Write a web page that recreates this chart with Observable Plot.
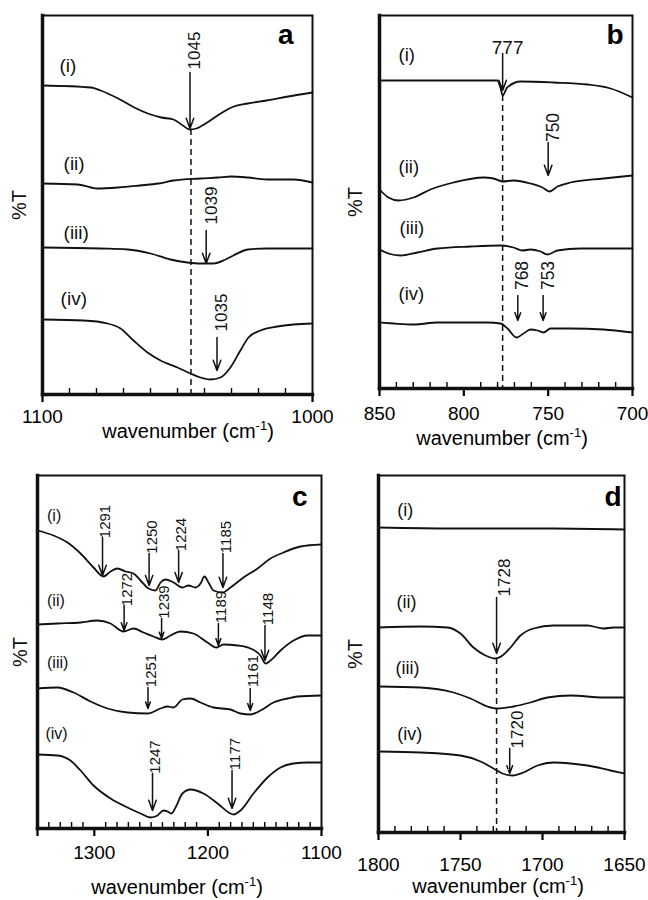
<!DOCTYPE html>
<html><head><meta charset="utf-8">
<script src="https://cdn.jsdelivr.net/npm/d3@7"></script>
<script src="https://cdn.jsdelivr.net/npm/@observablehq/plot@0.6"></script>
<style>
body{margin:0;background:#fff;}
#fig{position:relative;width:648px;height:900px;font-family:"Liberation Sans",Arial,sans-serif;overflow:hidden;background:#fff;}
.panel{position:absolute;}
.xlab{position:absolute;font-size:20px;line-height:20px;white-space:nowrap;transform:translateX(-50%);color:#000;}
.xlab sup{font-size:13px;vertical-align:0;position:relative;top:-8px;}
</style></head><body><div id="fig"></div>
<script>
// ---- Panel a: 1100–1000 cm-1 (T in arbitrary offset units) ----
const a_i = [[1100,309],[1082,307],[1078.5,304],[1072,296],[1066,287],[1061,281],[1056,277],[1051.5,275],[1048,269],[1045.5,265],[1043,266],[1039,272],[1034,281],[1030,287],[1024,291],[1017,294],[1009,298],[1000,302]];
const a_ii = [[1100,211],[1087,210],[1082,207],[1080,206],[1072,207],[1064,209],[1057,211],[1051.5,214],[1041.5,216],[1035,217],[1030,218],[1024,217],[1017,215],[1007,215],[1000,212]];
const a_iii = [[1100,147],[1078.5,146],[1068.5,145],[1060,141],[1052.6,135],[1046.3,132],[1041.5,131],[1036.7,131],[1032.2,135],[1029.3,139],[1024,145],[1017,146],[1000,146]];
const a_iv = [[1100,75],[1084.8,74],[1075.9,71],[1071.1,66],[1066.3,54],[1061.1,42],[1056.3,34],[1050,27],[1045.2,21],[1041.5,17],[1037.8,15],[1034.1,17],[1030.4,27],[1026.7,44],[1023.7,57],[1019.3,64],[1013,68],[1007,70],[1000,71]];
const labelsA = [{label:"(i)",wn:1093.7,T:329},{label:"(ii)",wn:1092.2,T:231},{label:"(iii)",wn:1092.2,T:162},{label:"(iv)",wn:1093.3,T:96}];
const annotA = [{wn:1045,label:"1045",yText:344,yTop:322,yTip:266},{wn:1039,label:"1039",yText:189,yTop:164,yTip:131},{wn:1035,label:"1035",yText:82,yTop:57,yTip:24}];
const dashA = [{wn:1045,from:265}];
const minorA = [1090,1080,1070,1060,1050,1040,1030,1020,1010];
const majorA = [1100,1000];
const tickLabelsA = [1100,1000];

// ---- Panel b: 850–700 cm-1 ----
const b_i = [[850,308],[780.2,308],[778.3,301],[777,293],[774.3,301],[766.4,307],[746.8,306],[726.7,304],[713,300],[700,291]];
const b_ii = [[850,199],[844.7,191],[838.7,188],[829.8,191],[819.8,199],[806.1,206],[788.3,211],[782.4,210],[777.1,207],[770.6,208],[760.5,205],[753.4,201],[749.2,197],[744.5,202],[736.8,206],[717.2,210],[700,213]];
const b_iii = [[850,139],[844.7,135],[837.5,133],[827.5,136],[815.6,140],[796,142],[778.3,143],[770.6,141],[765.2,138],[760.5,139],[754.5,137],[750.4,134],[744.5,138],[730.8,140],[700,140]];
const b_iv = [[850,66],[841.7,65],[829.8,64],[815.6,66],[786,66],[778.3,65],[774.1,60],[768.8,51],[764.6,55],[760.5,59],[756.3,58],[752.8,56],[748.6,60],[736.8,60],[717.2,59],[700,56]];
const labelsB = [{label:"(i)",wn:838.7,T:333},{label:"(ii)",wn:838.7,T:221},{label:"(iii)",wn:838.1,T:160},{label:"(iv)",wn:838.7,T:94}];
const annotB = [{wn:750,label:"750",yText:261,yTop:246,yTip:213},{wn:768,label:"768",yText:113,yTop:93,yTip:68},{wn:753,label:"753",yText:113,yTop:93,yTip:68}];
const annotBflat = [{wn:777,label:"777",yText:341,yTop:335,yTip:298}];
const dashB = [{wn:777,from:293}];
const minorB = [840,830,820,810,790,780,770,760,740,730,720,710];
const majorB = [850,800,750,700];
const tickLabelsB = [850,800,750,700];

// ---- Panel c: 1350–1100 cm-1 ----
const c_i = [[1350,298],[1335.9,293],[1323.6,286],[1312.1,275],[1300.7,261],[1291.9,252],[1285.7,257],[1279.6,260],[1272.5,257],[1265.5,255],[1259.3,248],[1252.3,240],[1246.1,238],[1241.7,246],[1237.3,249],[1230.3,246],[1222.4,241],[1217.1,243],[1210.9,241],[1206.5,245],[1203,252],[1199.5,246],[1195.1,238],[1187.1,236],[1180.1,241],[1168.7,251],[1156.3,260],[1144.9,270],[1133.5,276],[1118.5,282],[1100,284]];
const c_ii = [[1350,204],[1332.4,205],[1312.1,206],[1297.2,208],[1285.7,205],[1274.3,197],[1265.5,200],[1256.7,196],[1247.9,192],[1240,189],[1232.9,193],[1224.1,197],[1212.7,195],[1200.4,186],[1192.4,181],[1186.3,184],[1173.9,183],[1162.5,180],[1153.7,173],[1149.3,165],[1144.9,168],[1136.1,178],[1124.6,188],[1112.3,193],[1100,193]];
const c_iii = [[1350,140],[1332.4,141],[1318.3,136],[1303.3,127],[1288.4,120],[1270.8,116],[1253.2,115],[1241.7,120],[1235.6,122],[1230.3,121],[1222.4,129],[1215.3,130],[1206.5,126],[1195.1,121],[1180.1,119],[1171.3,115],[1162.5,114],[1153.7,118],[1142.3,126],[1129.9,130],[1121.1,132],[1100,133]];
const c_iv = [[1350,74],[1332.4,73],[1321,68],[1312.1,58],[1300.7,43],[1285.7,30],[1270.8,21],[1259.3,15],[1250.5,11],[1244.4,13],[1239.1,18],[1235.6,17],[1232,15],[1228.5,21],[1222.4,35],[1215.3,39],[1203.9,35],[1191.5,25],[1180.1,15],[1177.5,14],[1171.3,18],[1159.9,35],[1147.5,51],[1136.1,61],[1124.6,65],[1112.3,66],[1100,66]];
const labelsC = [{label:"(i)",wn:1341.6,T:313},{label:"(ii)",wn:1341.6,T:228},{label:"(iii)",wn:1341.6,T:166},{label:"(iv)",wn:1343,T:95}];
const annotC = [
  {wn:1291,label:"1291",yText:307,yTop:291,yTip:253},
  {wn:1250,label:"1250",yText:291.5,yTop:275,yTip:243},
  {wn:1224,label:"1224",yText:294,yTop:278,yTip:246},
  {wn:1185,label:"1185",yText:291.5,yTop:275,yTip:241},
  {wn:1272,label:"1272",yText:239,yTop:223,yTip:198},
  {wn:1239,label:"1239",yText:226.5,yTop:210,yTip:190},
  {wn:1189,label:"1189",yText:221.5,yTop:205,yTip:183},
  {wn:1148,label:"1148",yText:219.5,yTop:203,yTip:168},
  {wn:1251,label:"1251",yText:158,yTop:141,yTip:120},
  {wn:1161,label:"1161",yText:157.5,yTop:140,yTip:118},
  {wn:1247,label:"1247",yText:71.5,yTop:55,yTip:18},
  {wn:1177,label:"1177",yText:74.5,yTop:58,yTip:20}
];
const dashC = [];
const minorC = [1340,1330,1320,1310,1290,1280,1270,1260,1250,1240,1230,1220,1210,1190,1180,1170,1160,1150,1140,1130,1120,1110];
const majorC = [1350,1300,1200,1100];
const tickLabelsC = [1300,1200,1100];

// ---- Panel d: 1800–1650 cm-1 ----
const d_i = [[1800,305],[1754.3,304],[1693.3,304],[1650,303]];
const d_ii = [[1800,205],[1774.4,206],[1757.9,205],[1750,199],[1742.1,185],[1734.8,177],[1728.7,174],[1724.4,177],[1719.5,185],[1713.4,197],[1705.5,204],[1693.3,207],[1672.6,207],[1662.8,204],[1656.7,205],[1650,205]];
const d_iii = [[1800,146],[1774.4,145],[1754.3,140],[1743.9,134],[1733.5,126],[1727.4,124],[1717.7,126],[1707.3,130],[1697,135],[1682.9,137],[1662.8,135],[1650,135]];
const d_iv = [[1800,81],[1774.4,80],[1750,77],[1737.8,71],[1729.9,64],[1724.4,59],[1718.3,57],[1711.6,60],[1703,67],[1693.3,70],[1682.9,69],[1672.6,67],[1658.5,62],[1650,59]];
const labelsD = [{label:"(i)",wn:1788.6,T:322},{label:"(ii)",wn:1789,T:230},{label:"(iii)",wn:1789.6,T:164},{label:"(iv)",wn:1788.6,T:98}];
const annotD = [{wn:1728,label:"1728",yText:255,yTop:235,yTip:179},{wn:1720,label:"1720",yText:103,yTop:84,yTip:59}];
const dashD = [{wn:1728,from:174}];
const minorD = [1790,1780,1770,1760,1740,1730,1720,1710,1690,1680,1670,1660];
const majorD = [1800,1750,1700,1650];
const tickLabelsD = [1800,1750,1700,1650];

const seriesNames = ["(i)","(ii)","(iii)","(iv)"];
function rowsOf(list){
  const out = [];
  list.forEach((s,k) => s.forEach(([wn,T]) => out.push({series: seriesNames[k], wn, T})));
  return out;
}

const FONT = "'Liberation Sans', Arial, Helvetica, sans-serif";
const fig = document.getElementById("fig");

function panel(o){
  const chart = Plot.plot({
    width: o.width, height: o.height,
    marginLeft: o.mL, marginRight: o.mR, marginTop: o.mT, marginBottom: o.mB,
    x: {domain: o.domainX},
    y: {domain: [0, o.H], axis: null},
    style: {background: "transparent", overflow: "visible", fontFamily: FONT, color: "#000"},
    marks: [
      Plot.line(rowsOf(o.curves), {x: "wn", y: "T", z: "series", curve: "monotone-x", stroke: "#111", strokeWidth: 1.8}),
      Plot.ruleX(o.dashes, {x: "wn", y1: "from", y2: () => 0, stroke: "#111", strokeWidth: 1.5, strokeDasharray: "6,4"}),
      Plot.arrow(o.annots, {x1: "wn", x2: "wn", y1: "yTop", y2: "yTip", dx: o.arrowDx, stroke: "#111", strokeWidth: 1.5, headLength: 11, headAngle: 40}),
      Plot.text(o.annots, {x: "wn", y: "yText", text: "label", rotate: -90, dx: o.textDx, fontSize: o.annotFont, fill: "#111"}),
      Plot.arrow(o.annotsFlat || [], {x1: "wn", x2: "wn", y1: "yTop", y2: "yTip", dx: o.arrowDx, stroke: "#111", strokeWidth: 1.5, headLength: 11, headAngle: 40}),
      Plot.text(o.annotsFlat || [], {x: "wn", y: "yText", text: "label", dx: o.textDx, fontSize: 19, fill: "#111"}),
      Plot.text(o.labels, {x: "wn", y: "T", text: "label", textAnchor: "start", fontSize: o.labelFont, fill: "#111"}),
      Plot.text(["%T"], {text: d => d, frameAnchor: "left", dx: o.ytDx, rotate: -90, textAnchor: "middle", lineAnchor: "middle", fontSize: 20, fill: "#111"}),
      Plot.text([o.letter], {text: d => d, frameAnchor: "top-right", textAnchor: "end", lineAnchor: "bottom", dx: o.letterDx, dy: o.letterDy, fontSize: 28, fontWeight: "bold", fill: "#000"}),
      Plot.axisX({ticks: o.minor, tickSize: -6, tickFormat: () => "", label: null, strokeWidth: 1.4}),
      Plot.axisX({ticks: o.major, tickSize: 8, tickFormat: () => "", label: null, strokeWidth: 2.2}),
      Plot.axisX({ticks: o.tickLabels, tickSize: 0, tickPadding: o.tickPad, tickFormat: d => String(d), fontSize: 19, label: null}),
      Plot.frame({stroke: "#111", strokeWidth: 2}),
      Plot.frame({anchor: "left", stroke: "#111", strokeWidth: 3.5}),
      Plot.frame({anchor: "bottom", stroke: "#111", strokeWidth: 3.5})
    ]
  });
  const wrap = document.createElement("div");
  wrap.className = "panel";
  wrap.style.left = o.left + "px";
  wrap.style.top = o.top + "px";
  wrap.appendChild(chart);
  fig.appendChild(wrap);
  const lab = document.createElement("div");
  lab.className = "xlab";
  lab.style.left = o.xlabX + "px";
  lab.style.top = o.xlabY + "px";
  lab.innerHTML = "wavenumber (cm<sup>-1</sup>)";
  fig.appendChild(lab);
}

panel({left: 0, top: 0, width: 324, height: 445, mL: 42, mR: 12, mT: 15, mB: 51, H: 379,
  domainX: [1100, 1000], curves: [a_i, a_ii, a_iii, a_iv], labels: labelsA, annots: annotA, dashes: dashA,
  minor: minorA, major: majorA, tickLabels: tickLabelsA, tickPad: 15, letter: "a", letterDx: -19, letterDy: 28,
  ytDx: -23, labelFont: 19, annotFont: 17, arrowDx: -1, textDx: 4, xlabX: 188, xlabY: 421});

panel({left: 324, top: 0, width: 324, height: 445, mL: 55, mR: 16, mT: 15, mB: 57, H: 373,
  domainX: [850, 700], curves: [b_i, b_ii, b_iii, b_iv], labels: labelsB, annots: annotB, annotsFlat: annotBflat, dashes: dashB,
  minor: minorB, major: majorB, tickLabels: tickLabelsB, tickPad: 18, letter: "b", letterDx: -9, letterDy: 28,
  ytDx: -24, labelFont: 18.5, annotFont: 17.5, arrowDx: 0, textDx: 5, xlabX: 502, xlabY: 428});

panel({left: 0, top: 445, width: 324, height: 455, mL: 37, mR: 3, mT: 30, mB: 72, H: 353,
  domainX: [1350, 1100], curves: [c_i, c_ii, c_iii, c_iv], labels: labelsC, annots: annotC, dashes: dashC,
  minor: minorC, major: majorC, tickLabels: tickLabelsC, tickPad: 17, letter: "c", letterDx: -14, letterDy: 30,
  ytDx: -16.5, labelFont: 16, annotFont: 15, arrowDx: -2, textDx: 1, xlabX: 177, xlabY: 877});

panel({left: 324, top: 445, width: 324, height: 455, mL: 54, mR: 24, mT: 30, mB: 68, H: 357,
  domainX: [1800, 1650], curves: [d_i, d_ii, d_iii, d_iv], labels: labelsD, annots: annotD, dashes: dashD,
  minor: minorD, major: majorD, tickLabels: tickLabelsD, tickPad: 25, letter: "d", letterDx: -3, letterDy: 30,
  ytDx: -22.5, labelFont: 18, annotFont: 17, arrowDx: 0, textDx: 8, xlabX: 498, xlabY: 876});
</script>
</body></html>
